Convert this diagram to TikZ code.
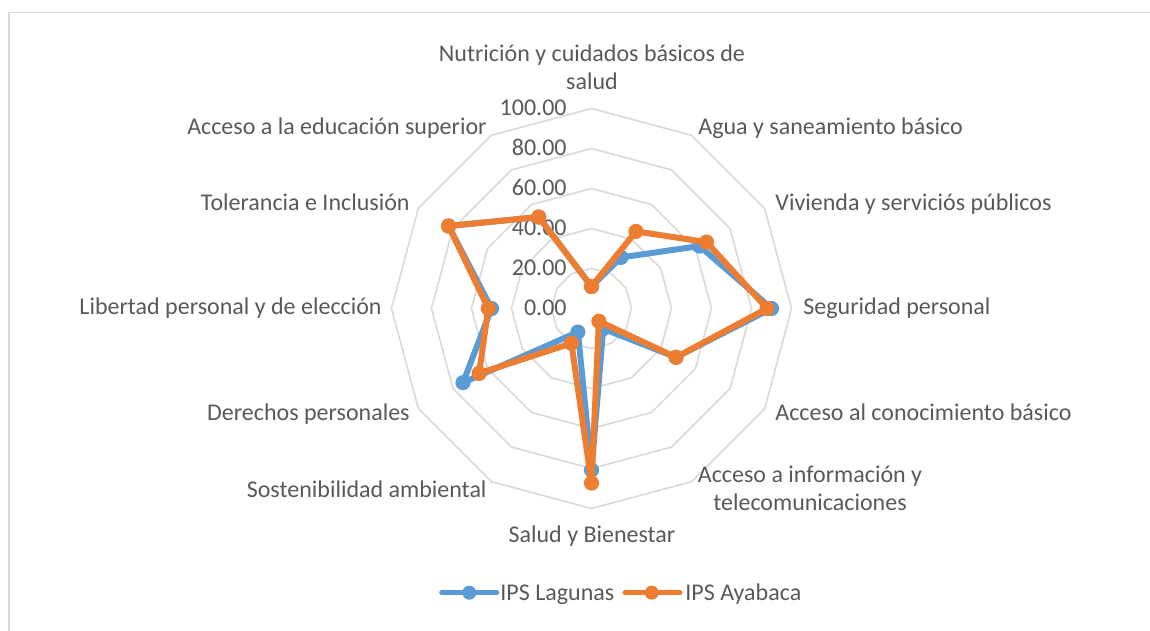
\documentclass[tikz,border=0pt]{standalone}
\usepackage{fontspec}
\setmainfont{Carlito}
\definecolor{lagunas}{HTML}{5B9BD5}
\definecolor{ayabaca}{HTML}{ED7D31}
\definecolor{gridgray}{HTML}{D9D9D9}
\definecolor{labelgray}{HTML}{595959}
\tikzset{
  ring/.style={draw=gridgray, line width=0.8pt, line join=round},
  serie/.style={line width=3pt, line join=round, line cap=round},
  lbl/.style={text=labelgray, font=\fontsize{12}{14}\selectfont, inner sep=0pt},
}
% one series: first axis (top) is 11, then the other eleven clockwise
\def\radarserie[#1](#2){%
  \draw[serie, #1] (90:2*11) foreach [count=\k] \v in {#2} { -- (90-30*\k:2*\v) } -- cycle;
  \foreach [count=\k from 0] \v in {11,#2} \fill[#1] (90-30*\k:2*\v) circle (3.8pt);
}

\begin{document}
\begin{tikzpicture}[x=0.5pt, y=0.5pt]
			%%%%% START %%%%%
			\useasboundingbox (0, 0) rectangle (1150, 631);
			\draw[gridgray, line width=0.8pt] (9, 0) -- (9, 618.3) -- (1150, 618.3);
			
			\begin{scope}[shift={(591.5, 322.5)}]
				% rings at 20 ... 100
				\foreach \r in {20, 40, 60, 80, 100}
					\draw[ring] (90:2*\r) foreach \k in {1, ..., 11} { -- (90-30*\k:2*\r) } -- cycle;
				
				% scale
				\foreach \r in {0, 20, 40, 60, 80, 100}
					\node[lbl, anchor=base east] (tick\r) at (-24.5, 2*\r-7.5) {\r.00};
				
				\radarserie[lagunas](29.5,62.4,90,48.8,11.7,80.8,13.6,74.2,50,82.5,52.8)
				\radarserie[ayabaca](44.5,66.4,87.8,48.8,7.4,87.3,20.1,64.9,51.6,82.5,52.8)
			\end{scope}
			
			% axis labels
			\node[lbl, anchor=base] (nutricion) at (592, 569.5) {Nutrición y cuidados básicos de};
			\node[lbl, anchor=base] (nutricionb) at (592, 541.5) {salud};
			\node[lbl, anchor=base west] (agua) at (698, 496.5) {Agua y saneamiento básico};
			\node[lbl, anchor=base west] (vivienda) at (775, 420.5) {Vivienda y serviciós públicos};
			\node[lbl, anchor=base west] (seguridad) at (803, 316) {Seguridad personal};
			\node[lbl, anchor=base west] (conocimiento) at (775, 210.5) {Acceso al conocimiento básico};
			\node[lbl, anchor=base] (informacion) at (810, 148.5) {Acceso a información y};
			\node[lbl, anchor=base] (informacionb) at (810, 120.5) {telecomunicaciones};
			\node[lbl, anchor=base] (salud) at (592, 88.5) {Salud y Bienestar};
			\node[lbl, anchor=base east] (sostenibilidad) at (487, 133.5) {Sostenibilidad ambiental};
			\node[lbl, anchor=base east] (derechos) at (410, 210.5) {Derechos personales};
			\node[lbl, anchor=base east] (libertad) at (382, 316) {Libertad personal y de elección};
			\node[lbl, anchor=base east] (tolerancia) at (410, 420.5) {Tolerancia e Inclusión};
			\node[lbl, anchor=base east] (educacion) at (487, 496.5) {Acceso a la educación superior};
			
			% legend
			\draw[serie, lagunas, line width=2.5pt] (441.7, 38.3) -- (496.7, 38.3);
			\fill[lagunas] (469.3, 38.3) circle (3.5pt);
			\node[lbl, anchor=base west] (leglagunas) at (500, 30.5) {IPS Lagunas};
			\draw[serie, ayabaca, line width=2.5pt] (625, 38.3) -- (680, 38.3);
			\fill[ayabaca] (651.7, 38.3) circle (3.5pt);
			\node[lbl, anchor=base west] (legayabaca) at (685, 30.5) {IPS Ayabaca};
			%%%%% END %%%%%
\end{tikzpicture}
\end{document}
